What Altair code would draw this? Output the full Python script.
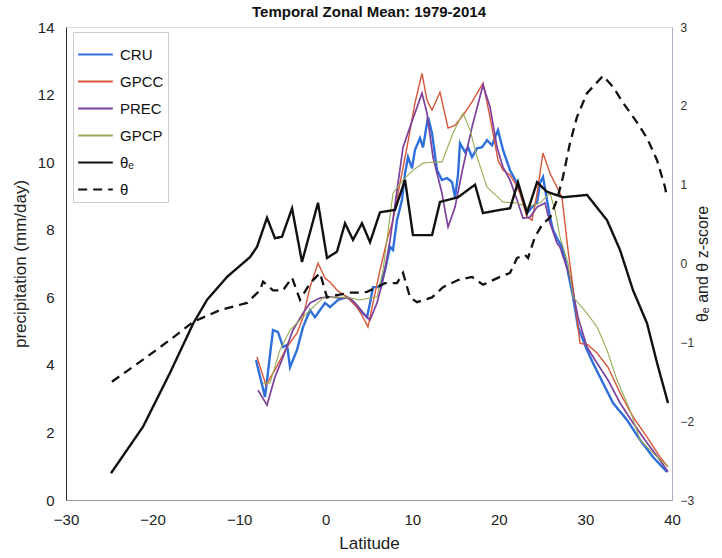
import altair as alt
import pandas as pd

# ---------------- data ----------------
cru_lat = [-8.05, -7.01, -6.09, -5.51, -4.93, -4.47, -4.12, -3.32, -2.62, -1.81, -1.24, -0.66, -0.08, 0.50,
           1.42, 2.46, 3.15, 3.96, 4.77, 5.12, 5.46, 6.27, 6.85, 7.43, 7.77, 8.23, 8.81, 9.16, 9.51, 9.97,
           10.31, 10.89, 11.24, 11.82, 12.28, 12.86, 13.43, 14.01, 14.59, 14.94, 15.28, 15.51, 16.09, 16.44,
           16.90, 17.48, 18.05, 18.63, 19.21, 19.90, 20.48, 21.29, 22.10, 22.67, 23.25, 23.83, 24.41, 24.75,
           25.10, 25.56, 25.91, 26.26, 26.83, 27.29, 27.87, 28.57, 29.14, 30.18, 30.88, 32.03, 33.19, 34.80,
           36.31, 37.81, 39.42]
cru_val = [4.14, 3.05, 5.03, 4.97, 4.53, 4.59, 3.93, 4.44, 5.12, 5.62, 5.41, 5.62, 5.83, 5.71,
           5.92, 6.01, 5.86, 5.62, 5.41, 5.83, 6.30, 6.30, 6.80, 7.49, 7.40, 8.28, 8.88, 9.67, 10.15, 9.82,
           10.36, 10.71, 10.44, 11.33, 10.86, 9.76, 9.47, 9.53, 9.41, 8.96, 9.62, 10.56, 10.30, 10.44,
           10.15, 10.41, 10.44, 10.65, 10.50, 10.95, 10.36, 9.76, 9.38, 8.96, 8.49, 8.67, 8.79, 9.38,
           9.56, 8.88, 8.37, 7.99, 7.69, 7.49, 6.89, 6.01, 5.12, 4.44, 4.05, 3.46, 2.87, 2.37,
           1.78, 1.27, 0.83]

gpcc_lat = [-7.94, -6.90, -5.86, -4.47, -3.32, -2.62, -1.81, -0.89, -0.08, 0.50, 1.30, 2.46, 3.61, 4.31,
            4.88, 5.46, 6.27, 7.08, 7.77, 8.58, 9.39, 10.31, 11.12, 11.70, 12.28, 13.20, 14.13, 14.94,
            15.86, 16.90, 18.17, 18.98, 19.90, 20.48, 21.29, 21.87, 22.44, 23.25, 23.83, 24.41, 25.10,
            25.91, 27.29, 27.99, 28.80, 29.37, 30.30, 31.34, 32.61, 34.00, 35.50, 37.12, 38.62, 39.54]
gpcc_val = [4.23, 3.40, 3.85, 4.53, 4.94, 5.41, 6.30, 7.01, 6.57, 6.45, 6.21, 6.01, 5.71, 5.41,
            5.12, 5.83, 6.80, 7.69, 8.28, 9.38, 10.44, 11.75, 12.63, 11.83, 11.54, 12.07, 11.01, 11.09,
            11.39, 11.78, 12.34, 11.33, 10.06, 9.76, 9.62, 9.38, 9.08, 8.37, 8.28, 9.08, 10.27,
            9.67, 8.96, 7.40, 5.83, 4.64, 4.59, 4.35, 3.93, 3.17, 2.46, 1.86, 1.27, 0.98]

prec_lat = [-7.82, -6.78, -5.86, -4.93, -3.78, -2.62, -1.81, -0.66, 0.50, 1.65, 2.81, 3.61, 4.54, 5.12,
            5.92, 6.62, 7.43, 8.93, 9.74, 11.12, 11.70, 12.39, 13.43, 14.13, 14.94, 15.86, 16.90, 18.17,
            18.98, 19.79, 20.48, 21.29, 22.10, 22.79, 23.60, 24.41, 25.33, 25.91, 26.72, 27.06, 28.22,
            29.14, 30.18, 31.34, 32.61, 34.00, 35.50, 37.12, 38.62, 39.54]
prec_val = [3.25, 2.81, 3.64, 4.23, 5.03, 5.53, 5.83, 5.98, 6.01, 5.98, 5.98, 5.77, 5.47, 5.33,
            5.83, 6.51, 7.69, 10.44, 11.04, 12.04, 11.45, 10.15, 9.08, 8.08, 8.67, 9.85, 11.04, 12.28,
            11.63, 10.44, 9.85, 9.47, 8.88, 8.34, 8.37, 8.67, 8.79, 8.20, 7.60, 7.49, 6.60,
            5.41, 4.53, 4.05, 3.55, 2.87, 2.28, 1.69, 1.18, 0.83]

gpcp_lat = [-7.24, -6.44, -5.28, -4.12, -2.97, -1.81, -0.31, 1.30, 2.81, 3.96, 5.12, 5.92, 6.62, 7.77,
            8.93, 10.08, 11.24, 12.39, 13.43, 14.70, 15.86, 16.67, 17.48, 18.63, 20.48, 22.10, 23.25,
            24.75, 25.91, 26.49, 27.06, 27.99, 28.57, 30.18, 31.34, 32.49, 33.65, 35.15, 36.31, 37.81, 39.54]
gpcp_val = [3.46, 3.46, 4.44, 5.03, 5.33, 5.62, 5.98, 6.01, 5.98, 5.92, 5.98, 6.01, 6.80, 9.08,
            9.47, 9.76, 9.97, 10.00, 10.00, 10.86, 11.45, 10.95, 10.15, 9.26, 8.82, 8.79, 8.67,
            8.79, 9.08, 8.58, 7.78, 7.01, 6.01, 5.53, 5.12, 4.44, 3.55, 2.66, 1.78, 1.39, 0.98]

thetae_lat = [-24.8, -21.1, -18.0, -15.3, -13.7, -11.4, -8.75, -7.94, -6.78, -5.86, -5.05, -3.89, -2.74,
              -0.89, 0.15, 1.30, 2.23, 3.15, 4.19, 5.12, 6.27, 8.00, 9.16, 10.08, 12.28, 13.20, 15.28,
              17.25, 18.17, 20.13, 21.29, 22.21, 23.25, 24.41, 25.56, 27.41, 30.18, 32.49, 34.00, 35.50,
              37.12, 38.27, 39.54]
thetae_z = [-2.66, -2.07, -1.39, -0.76, -0.46, -0.17, 0.08, 0.21, 0.58, 0.32, 0.34, 0.70, 0.02,
            0.77, 0.07, 0.15, 0.51, 0.30, 0.51, 0.27, 0.65, 0.68, 1.06, 0.36, 0.36, 0.78, 0.84,
            1.00, 0.64, 0.68, 0.70, 1.03, 0.64, 1.03, 0.91, 0.84, 0.87, 0.55, 0.17, -0.34,
            -0.76, -1.26, -1.77]

theta_lat = [-24.7, -21.1, -18.0, -15.3, -12.2, -9.1, -7.6, -7.24, -6.09, -4.93, -3.89, -2.97, -1.81,
             -0.66, 0.15, 1.30, 2.81, 3.96, 4.77, 5.92, 6.85, 8.23, 8.93, 9.74, 10.55, 12.28, 13.55,
             15.28, 16.90, 18.17, 20.13, 21.29, 22.10, 23.02, 23.37, 24.18, 25.10, 25.91, 26.72, 27.41,
             28.22, 29.03, 30.18, 32.03, 33.19, 34.34, 35.96, 37.12, 38.27, 39.19, 39.42]
theta_z = [-1.50, -1.22, -0.97, -0.74, -0.59, -0.50, -0.34, -0.23, -0.34, -0.34, -0.18, -0.46, -0.25,
           -0.12, -0.43, -0.40, -0.37, -0.37, -0.36, -0.30, -0.25, -0.25, -0.12, -0.43, -0.49, -0.43, -0.30,
           -0.21, -0.17, -0.27, -0.17, -0.12, 0.07, 0.11, 0.07, 0.34, 0.51, 0.58, 0.81, 1.10,
           1.53, 1.86, 2.16, 2.38, 2.24, 2.04, 1.79, 1.59, 1.31, 0.97, 0.83]

series_names = ["CRU", "GPCC", "PREC", "GPCP", "θₑ", "θ"]
series_colors = ["#2f6fdc", "#d8553a", "#7b3f9c", "#97ab52", "#111111", "#111111"]
series_dashes = [[1, 0], [1, 0], [1, 0], [1, 0], [1, 0], [9, 6]]
series_widths = [2.4, 1.4, 1.7, 1.1, 2.4, 2.3]

x_ticks = [-30, -20, -10, 0, 10, 20, 30, 40]
left_ticks = [0, 2, 4, 6, 8, 10, 12, 14]
right_ticks = [-3, -2, -1, 0, 1, 2, 3]

FONT = "Liberation Sans"


def frame(name, lats, vals):
    return pd.DataFrame({"lat": lats, "val": vals, "series": name})


legend = alt.Legend(title=None, orient="none", legendX=7, legendY=5, symbolType="stroke",
                    symbolSize=1200, symbolStrokeWidth=2, labelFont=FONT, labelFontSize=15,
                    labelColor="#111", strokeColor="#cccccc", fillColor="white", padding=4,
                    rowPadding=-2, labelOffset=6, labelLimit=200)

color = alt.Color("series:N", scale=alt.Scale(domain=series_names, range=series_colors), legend=legend)
dash = alt.StrokeDash("series:N", scale=alt.Scale(domain=series_names, range=series_dashes), legend=legend)

xenc = alt.X("lat:Q", scale=alt.Scale(domain=[-30, 40], nice=False, zero=False),
             axis=alt.Axis(values=x_ticks, title="Latitude", labelFont=FONT, labelFontSize=15,
                           titleFont=FONT, titleFontSize=17, titleFontWeight="normal", labelColor="#222",
                           titleColor="#222", ticks=False, labelPadding=12, titlePadding=8, grid=False,
                           domainColor="#999999", labelFlush=False))

left_axis = alt.Axis(values=left_ticks, title="precipitation (mm/day)", orient="left",
                     labelFont=FONT, labelFontSize=15, titleFont=FONT, titleFontSize=17,
                     titleFontWeight="normal", labelColor="#222", titleColor="#222", ticks=False,
                     labelPadding=12, titlePadding=8, grid=False, domainColor="#333333")
right_axis = alt.Axis(values=right_ticks, title="θₑ and θ z-score", orient="right",
                      labelFont=FONT, labelFontSize=12, titleFont=FONT, titleFontSize=16,
                      titleFontWeight="normal", labelColor="#333", titleColor="#222", ticks=False,
                      labelPadding=8, titlePadding=17, grid=False, domainColor="#aab0c8",
                      titleAngle=270)


def line(df, w, yaxis, ydomain):
    return alt.Chart(df).mark_line(interpolate="linear", strokeWidth=w).encode(
        x=xenc,
        y=alt.Y("val:Q", scale=alt.Scale(domain=ydomain, nice=False), axis=yaxis),
        color=color, strokeDash=dash, order="lat:Q",
    )


precip_layers = alt.layer(
    line(frame("CRU", cru_lat, cru_val), series_widths[0], left_axis, [0, 14]),
    line(frame("GPCC", gpcc_lat, gpcc_val), series_widths[1], left_axis, [0, 14]),
    line(frame("PREC", prec_lat, prec_val), series_widths[2], left_axis, [0, 14]),
    line(frame("GPCP", gpcp_lat, gpcp_val), series_widths[3], left_axis, [0, 14]),
)
z_layers = alt.layer(
    line(frame("θₑ", thetae_lat, thetae_z), series_widths[4], right_axis, [-3, 3]),
    line(frame("θ", theta_lat, theta_z), series_widths[5], right_axis, [-3, 3]),
)

chart = alt.layer(precip_layers, z_layers).resolve_scale(y="independent").properties(
    width=606, height=473,
    title=alt.TitleParams("Temporal Zonal Mean: 1979-2014", font=FONT, fontSize=15, fontWeight="bold",
                          anchor="middle", frame="group", offset=8, dy=8, color="#111"),
    padding={"left": 66, "top": 27, "right": 50, "bottom": 58},
    autosize=alt.AutoSizeParams(type="none"),
).configure_view(stroke="#cccccc", strokeWidth=1).configure(background="white")

chart.save("out.html", embed_options={"renderer": "svg", "actions": False})
